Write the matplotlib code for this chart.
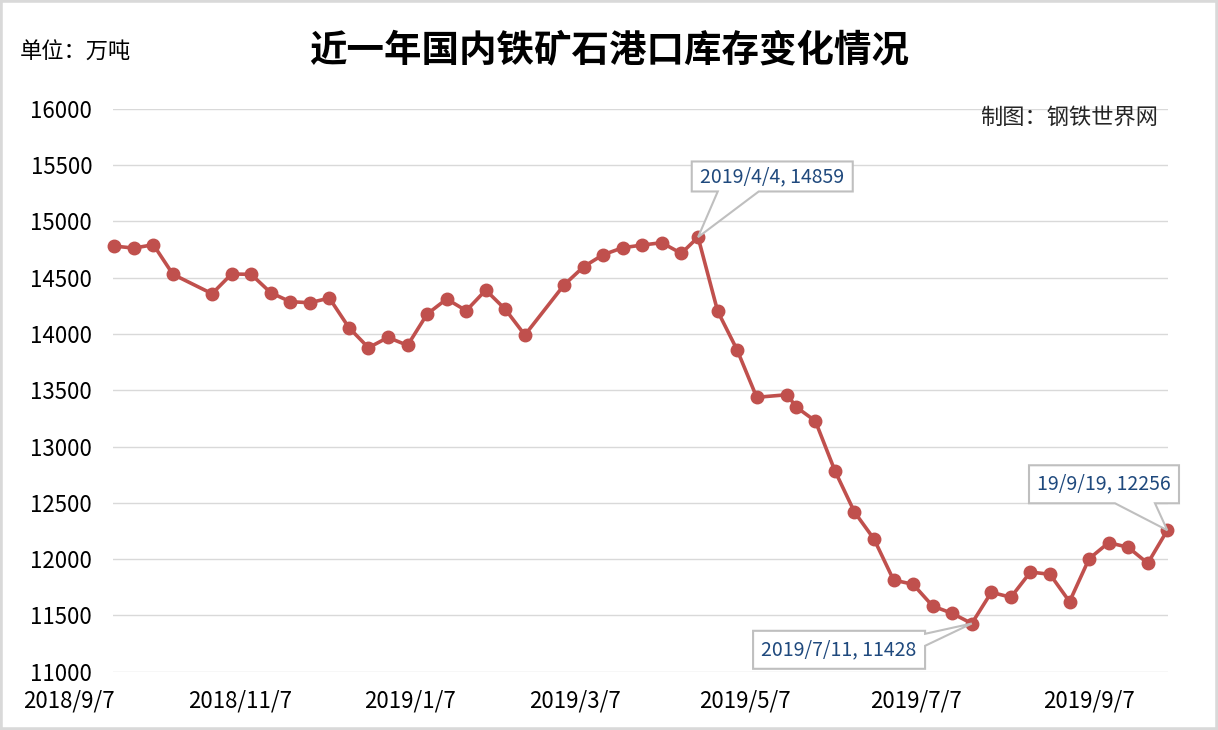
import numpy as np
import pandas as pd
import matplotlib
matplotlib.use('Agg')
import matplotlib.pyplot as plt
import matplotlib.dates as mdates
from matplotlib.path import Path
from matplotlib.patches import PathPatch, Rectangle
from matplotlib.transforms import ScaledTranslation

plt.rcParams['font.family'] = ['Noto Sans CJK SC', 'DejaVu Sans']

## data (weekly port stock, 10k tons)
dates = ['2018-09-07', '2018-09-14', '2018-09-21', '2018-09-28',
         '2018-10-12', '2018-10-19', '2018-10-26', '2018-11-02', '2018-11-09',
         '2018-11-16', '2018-11-23', '2018-11-30',
         '2018-12-07', '2018-12-14', '2018-12-21', '2018-12-28', '2019-01-04',
         '2019-01-11', '2019-01-18', '2019-01-25', '2019-02-01',
         '2019-02-15', '2019-02-22', '2019-03-01', '2019-03-08', '2019-03-15',
         '2019-03-22', '2019-03-29', '2019-04-04',
         '2019-04-11', '2019-04-18', '2019-04-25', '2019-05-06', '2019-05-09',
         '2019-05-16', '2019-05-23', '2019-05-30',
         '2019-06-06', '2019-06-13', '2019-06-20', '2019-06-27', '2019-07-04',
         '2019-07-11',
         '2019-07-18', '2019-07-25', '2019-08-01', '2019-08-08', '2019-08-15',
         '2019-08-22', '2019-08-29', '2019-09-05', '2019-09-12', '2019-09-19']
stock = [14780, 14762, 14792, 14529,
         14357, 14532, 14529, 14366, 14286, 14277, 14318, 14056,
         13877, 13969, 13898, 14176, 14310, 14206, 14389, 14218, 13990,
         14434, 14596, 14703, 14765, 14789, 14810, 14715, 14859,
         14203, 13857, 13437, 13460, 13353, 13226, 12784, 12418,
         12178, 11814, 11776, 11583, 11518, 11428,
         11705, 11661, 11885, 11865, 11622, 12003, 12146, 12105, 11963, 12256]
x_tick_labels = ['2018/9/7', '2018/11/7', '2019/1/7', '2019/3/7',
                 '2019/5/7', '2019/7/7', '2019/9/7']
y_ticks = list(range(11000, 16001, 500))

# callouts: point index, text
callout_idx = [28, 42, 52]
callout_txt = ['2019/4/4, 14859', '2019/7/11, 11428', '19/9/19, 12256']

dates = pd.to_datetime(dates)
x_ticks = pd.to_datetime(x_tick_labels, format='%Y/%m/%d')

fig = plt.figure(figsize=(12.18, 7.30), dpi=100)
ax = fig.add_axes([113/1218, 1 - 671.7/730, (1168-113)/1218, (671.7-108.7)/730])

ax.plot(dates, stock, color='#C0504D', lw=2.6, marker='o', ms=9, zorder=3, clip_on=False)

ax.set_ylim(11000, 16000)
ax.set_yticks(y_ticks)
ax.set_xlim(dates[0] - pd.Timedelta(hours=11), dates[-1] + pd.Timedelta(hours=6))
ax.set_xticks(x_ticks)
ax.set_xticklabels(x_tick_labels)
ax.grid(axis='y', color='#D9D9D9', lw=1)
ax.set_axisbelow(True)
for s in ax.spines.values():
    s.set_visible(False)
ax.tick_params(axis='both', length=0, labelsize=16, colors='black')
ax.tick_params(axis='y', pad=15)
ax.tick_params(axis='x', pad=13)

# excel puts the date labels a bit left of the tick date
shift = ScaledTranslation(-0.45, 0, fig.dpi_scale_trans)
for lab in ax.xaxis.get_majorticklabels():
    lab.set_transform(lab.get_transform() + shift)

## texts
fig.text(0.5, 1 - 50/730, '近一年国内铁矿石港口库存变化情况', fontsize=27,
         weight='black', ha='center', va='center')
fig.text(20/1218, 1 - 52/730, '单位：万吨', fontsize=16, ha='left', va='center')
fig.text(1158/1218, 1 - 117/730, '制图：钢铁世界网', fontsize=16,
         ha='right', va='center', color='#262626')

## callout boxes, sizes in pixels relative to the point (y up)
boxes = [(-6.3, 45.7, 154.7, 75.7), (-218.7, -45.3, -46.7, -7.3), (-138.3, 27, 11.7, 65)]
wedges = [('bottom', 19.7, 60.7), ('right', -22.3, -10.3), ('bottom', -52.3, -12.3)]

for i, txt, box, wd in zip(callout_idx, callout_txt, boxes, wedges):
    l, b, r, t = [v / fig.dpi for v in box]
    a, c = wd[1] / fig.dpi, wd[2] / fig.dpi
    if wd[0] == 'bottom':
        verts = [(l, t), (r, t), (r, b), (c, b), (0, 0), (a, b), (l, b), (l, t)]
    else:
        verts = [(l, t), (r, t), (r, c), (0, 0), (r, a), (r, b), (l, b), (l, t)]
    codes = [Path.MOVETO] + [Path.LINETO] * (len(verts) - 2) + [Path.CLOSEPOLY]
    tr = fig.dpi_scale_trans + ScaledTranslation(mdates.date2num(dates[i]), stock[i], ax.transData)
    ax.add_patch(PathPatch(Path(verts, codes), transform=tr, fc='white', ec='#BFBFBF',
                           lw=1.5, clip_on=False, zorder=5))
    ax.text((l + r) / 2, (b + t) / 2, txt, transform=tr, ha='center', va='center',
            fontsize=14, color='#1F497D', zorder=6, clip_on=False)

# chart border
fig.patches.append(Rectangle((0, 0), 1, 1, transform=fig.transFigure, fill=False,
                             ec='#D9D9D9', lw=4))

fig.savefig('out.png', dpi=100)
